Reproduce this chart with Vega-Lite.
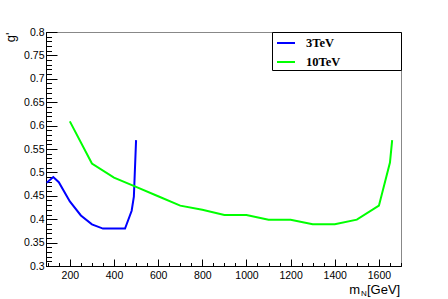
{
  "$schema": "https://vega.github.io/schema/vega-lite/v6.json",
  "width": 355,
  "height": 234,
  "autosize": {"type": "none"},
  "padding": {"left": 46, "top": 32, "right": 47, "bottom": 33},
  "background": "white",
  "config": {
    "view": {"stroke": "#888888", "strokeWidth": 1},
    "axis": {
      "domainColor": "black",
      "tickColor": "black",
      "labelFont": "Liberation Sans",
      "labelFontSize": 10.5,
      "labelColor": "black",
      "grid": false,
      "titleFont": "Liberation Sans",
      "titleFontWeight": "normal",
      "titleColor": "black"
    },
    "legend": {
      "orient": "top-right",
      "offset": 0,
      "padding": 1,
      "strokeColor": "black",
      "fillColor": "white",
      "strokeWidth": 1,
      "symbolType": "stroke",
      "symbolSize": 324,
      "symbolStrokeWidth": 2,
      "symbolOffset": 3,
      "labelFont": "Liberation Serif",
      "labelFontWeight": "bold",
      "labelFontSize": 12.5,
      "labelColor": "black",
      "labelOffset": 10,
      "rowPadding": 2,
      "labelLimit": 0
    }
  },
  "data": {
    "values": [
      {"series": "3TeV", "m": 95, "g": 0.478},
      {"series": "3TeV", "m": 125, "g": 0.49},
      {"series": "3TeV", "m": 150, "g": 0.479},
      {"series": "3TeV", "m": 200, "g": 0.438},
      {"series": "3TeV", "m": 250, "g": 0.408},
      {"series": "3TeV", "m": 300, "g": 0.389},
      {"series": "3TeV", "m": 350, "g": 0.38},
      {"series": "3TeV", "m": 450, "g": 0.38},
      {"series": "3TeV", "m": 480, "g": 0.418},
      {"series": "3TeV", "m": 490, "g": 0.448},
      {"series": "3TeV", "m": 500, "g": 0.569},
      {"series": "10TeV", "m": 200, "g": 0.609},
      {"series": "10TeV", "m": 300, "g": 0.519},
      {"series": "10TeV", "m": 400, "g": 0.489},
      {"series": "10TeV", "m": 500, "g": 0.469},
      {"series": "10TeV", "m": 600, "g": 0.449},
      {"series": "10TeV", "m": 700, "g": 0.429},
      {"series": "10TeV", "m": 800, "g": 0.42},
      {"series": "10TeV", "m": 900, "g": 0.409},
      {"series": "10TeV", "m": 1000, "g": 0.409},
      {"series": "10TeV", "m": 1100, "g": 0.399},
      {"series": "10TeV", "m": 1200, "g": 0.399},
      {"series": "10TeV", "m": 1300, "g": 0.389},
      {"series": "10TeV", "m": 1400, "g": 0.389},
      {"series": "10TeV", "m": 1500, "g": 0.399},
      {"series": "10TeV", "m": 1600, "g": 0.429},
      {"series": "10TeV", "m": 1650, "g": 0.521},
      {"series": "10TeV", "m": 1660, "g": 0.569}
    ]
  },
  "layer": [
    {
      "mark": {"type": "point", "opacity": 0},
      "encoding": {
        "x": {
          "field": "m",
          "type": "quantitative",
          "scale": {"domain": [92, 1700], "nice": false, "zero": false},
          "axis": {
            "orient": "bottom",
            "values": [100, 150, 200, 250, 300, 350, 400, 450, 500, 550, 600, 650, 700, 750, 800, 850, 900, 950, 1000, 1050, 1100, 1150, 1200, 1250, 1300, 1350, 1400, 1450, 1500, 1550, 1600, 1650, 1700],
            "tickSize": -3.5,
            "labels": false,
            "title": "N",
            "titleFontSize": 8,
            "titleAlign": "left",
            "titleAnchor": "start",
            "titleBaseline": "alphabetic",
            "titleX": 314.5,
            "titleY": 29
          }
        },
        "y": {
          "field": "g",
          "type": "quantitative",
          "scale": {"domain": [0.3, 0.8], "nice": false, "zero": false},
          "axis": {
            "orient": "left",
            "values": [0.3, 0.31, 0.32, 0.33, 0.34, 0.35, 0.36, 0.37, 0.38, 0.39, 0.4, 0.41, 0.42, 0.43, 0.44, 0.45, 0.46, 0.47, 0.48, 0.49, 0.5, 0.51, 0.52, 0.53, 0.54, 0.55, 0.56, 0.57, 0.58, 0.59, 0.6, 0.61, 0.62, 0.63, 0.64, 0.65, 0.66, 0.67, 0.68, 0.69, 0.7, 0.71, 0.72, 0.73, 0.74, 0.75, 0.76, 0.77, 0.78, 0.79, 0.8],
            "tickSize": -5.5,
            "labels": false,
            "title": null
          }
        }
      }
    },
    {
      "mark": {"type": "point", "opacity": 0},
      "encoding": {
        "x": {
          "field": "m",
          "type": "quantitative",
          "scale": {"domain": [92, 1700], "nice": false, "zero": false},
          "axis": {
            "orient": "bottom",
            "values": [],
            "ticks": false,
            "labels": false,
            "domain": false,
            "title": "[GeV]",
            "titleFontSize": 13,
            "titleAlign": "left",
            "titleAnchor": "start",
            "titleBaseline": "alphabetic",
            "titleX": 320.5,
            "titleY": 27
          }
        }
      }
    },
    {
      "mark": {"type": "line", "strokeWidth": 2},
      "encoding": {
        "x": {
          "field": "m",
          "type": "quantitative",
          "scale": {"domain": [92, 1700], "nice": false, "zero": false},
          "axis": {
            "orient": "bottom",
            "values": [200, 400, 600, 800, 1000, 1200, 1400, 1600],
            "format": "d",
            "tickSize": -7,
            "labelPadding": 11,
            "labelFlush": false,
            "title": "m",
            "titleFontSize": 13,
            "titleAlign": "right",
            "titleAnchor": "end",
            "titleBaseline": "alphabetic",
            "titleX": 313.5,
            "titleY": 27
          }
        },
        "y": {
          "field": "g",
          "type": "quantitative",
          "scale": {"domain": [0.3, 0.8], "nice": false, "zero": false},
          "axis": {
            "orient": "left",
            "values": [0.3, 0.35, 0.4, 0.45, 0.5, 0.55, 0.6, 0.65, 0.7, 0.75, 0.8],
            "format": ".2~f",
            "tickSize": -11,
            "labelPadding": 13,
            "labelFlush": false,
            "title": "g'",
            "titleFontSize": 13,
            "titleAngle": 270,
            "titleAlign": "right",
            "titleAnchor": "end",
            "titleBaseline": "alphabetic",
            "titleX": -32,
            "titleY": 0
          }
        },
        "color": {
          "field": "series",
          "type": "nominal",
          "scale": {"domain": ["3TeV", "10TeV"], "range": ["#0000ff", "#00ff00"]},
          "legend": {
            "title": null,
            "labelExpr": "datum.label + '\u00a0\u00a0\u00a0\u00a0\u00a0\u00a0\u00a0\u00a0\u00a0\u00a0\u00a0\u00a0\u00a0\u00a0\u00a0\u00a0\u00a0\u00a0\u00a0\u200b'"
          }
        }
      }
    }
  ],
  "resolve": {"axis": {"x": "independent", "y": "independent"}}
}
